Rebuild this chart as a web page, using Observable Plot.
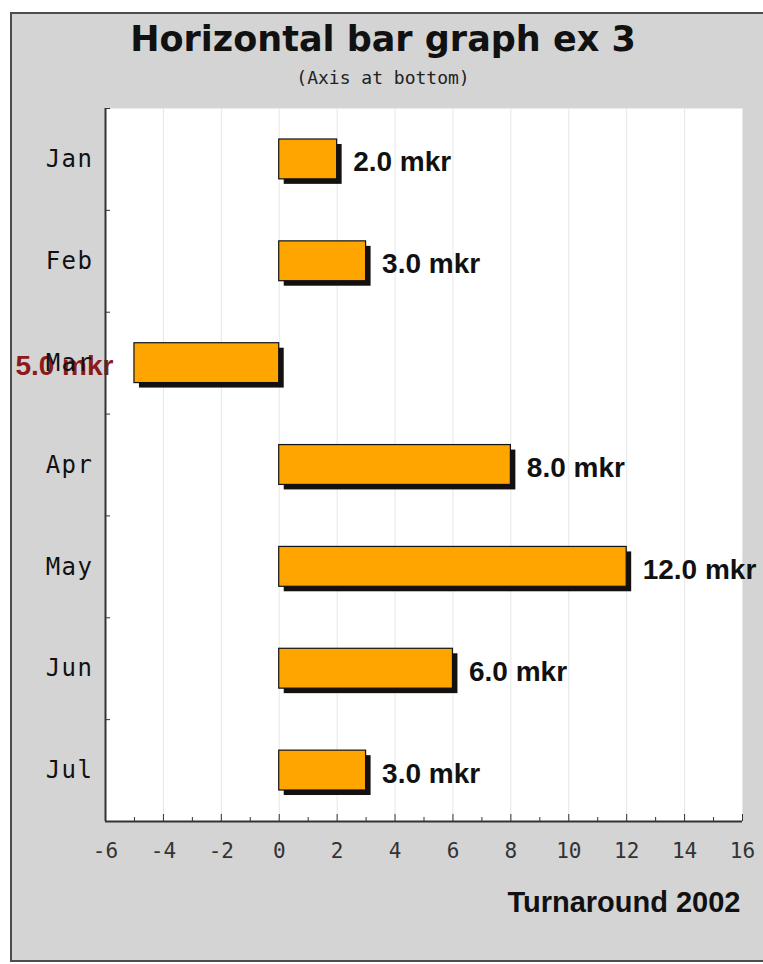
<!DOCTYPE html>
<html>
<head>
<meta charset="utf-8">
<script src="https://cdn.jsdelivr.net/npm/d3@7"></script>
<script src="https://cdn.jsdelivr.net/npm/@observablehq/plot@0.6"></script>
<style>
  html, body { margin: 0; padding: 0; background: #ffffff; width: 763px; height: 964px; overflow: hidden; }
  #frame { position: absolute; left: 10px; top: 12px; width: 900px; height: 950px; box-sizing: border-box;
           border: 2px solid #4d4d4d; border-right: none; background: #d4d4d4; }
  #title { width: 742px; height: 50px; line-height: 50px; text-align: center;
           font-family: "DejaVu Sans", sans-serif; font-weight: bold; font-size: 35px; color: #111; }
  #subtitle { width: 742px; height: 28px; line-height: 28px; text-align: center;
              font-family: "DejaVu Sans Mono", monospace; font-size: 18px; color: #222; }
  #plot svg { display: block; }
  g[aria-label="y-axis tick label"] text { letter-spacing: 1.5px; }
</style>
</head>
<body>
<div id="frame">
  <div id="title">Horizontal bar graph ex 3</div>
  <div id="subtitle">(Axis at bottom)</div>
  <div id="plot"></div>
</div>
<script>
const months = ["Jan", "Feb", "Mar", "Apr", "May", "Jun", "Jul"];
const values = [2, 3, -5, 8, 12, 6, 3];
const xMajorTicks = [-6, -4, -2, 0, 2, 4, 6, 8, 10, 12, 14, 16];
const xMinorTicks = [-5, -3, -1, 1, 3, 5, 7, 9, 11, 13, 15];
const xTitle = "Turnaround 2002";
const unit = "mkr";

const data = months.map((m, i) => ({month: m, i, value: values[i]}));
const yBounds = d3.range(0, months.length + 1);
const yCenters = months.map((m, i) => i + 0.5);
const fmt = v => `${Math.abs(v).toFixed(1)} ${unit}`;

const chart = Plot.plot({
  width: 751,
  height: 868,
  marginLeft: 93,
  marginRight: 21,
  marginTop: 16,
  marginBottom: 139,
  style: {background: "transparent", overflow: "visible"},
  x: {domain: [-6, 16], label: null, nice: false},
  y: {domain: [0, months.length], reverse: true, label: null},
  marks: [
    Plot.frame({fill: "white", stroke: "none"}),
    Plot.gridX(xMajorTicks, {stroke: "#e6e6e6", strokeOpacity: 1}),
    // shadows
    Plot.rect(data, {x1: 0, x2: "value", y1: "i", y2: d => d.i + 1, insetTop: 31, insetBottom: 31,
      fill: "#151010", dx: 5, dy: 5}),
    // bars
    Plot.rect(data, {x1: 0, x2: "value", y1: "i", y2: d => d.i + 1, insetTop: 31, insetBottom: 31,
      fill: "#ffa500", stroke: "#111", strokeWidth: 1.2}),
    // value labels
    Plot.text(data.filter(d => d.value >= 0), {x: "value", y: d => d.i + 0.5, text: d => fmt(d.value),
      textAnchor: "start", dx: 16, dy: 3, fontFamily: "Liberation Sans, Arial, sans-serif",
      fontWeight: "bold", fontSize: 28, fill: "#111"}),
    Plot.text(data.filter(d => d.value < 0), {x: "value", y: d => d.i + 0.5, text: d => fmt(d.value),
      textAnchor: "end", dx: -21, dy: 3, fontFamily: "Liberation Sans, Arial, sans-serif",
      fontWeight: "bold", fontSize: 28, fill: "#8b1a1a"}),
    // axis lines
    Plot.ruleX([-6], {stroke: "#333", strokeWidth: 2}),
    Plot.ruleY([months.length], {stroke: "#333", strokeWidth: 2}),
    // y ticks at band boundaries (inward)
    Plot.axisY(yBounds, {anchor: "left", tickSize: -5, tickFormat: () => "", stroke: "#333"}),
    // y labels
    Plot.axisY(yCenters, {anchor: "left", tickSize: 0, tickPadding: 12,
      tickFormat: v => months[Math.round(v - 0.5)], fontFamily: "DejaVu Sans Mono, monospace",
      fontSize: 24, fill: "#111"}),
    // x ticks (inward)
    Plot.axisX(xMajorTicks, {anchor: "bottom", tickSize: -7, tickFormat: () => "", stroke: "#333"}),
    Plot.axisX(xMinorTicks, {anchor: "bottom", tickSize: -4, tickFormat: () => "", stroke: "#333"}),
    // x labels
    Plot.axisX(xMajorTicks, {anchor: "bottom", tickSize: 0, tickPadding: 22, tickFormat: d => String(d),
      fontFamily: "DejaVu Sans Mono, monospace", fontSize: 21, fill: "#333"}),
    // x title
    Plot.text([xTitle], {frameAnchor: "bottom-right", text: d => d, textAnchor: "end", lineAnchor: "middle",
      dx: -2, dy: 81, fontFamily: "Liberation Sans, Arial, sans-serif", fontWeight: "bold",
      fontSize: 29, fill: "#111"})
  ]
});
document.getElementById("plot").append(chart);
</script>
</body>
</html>
